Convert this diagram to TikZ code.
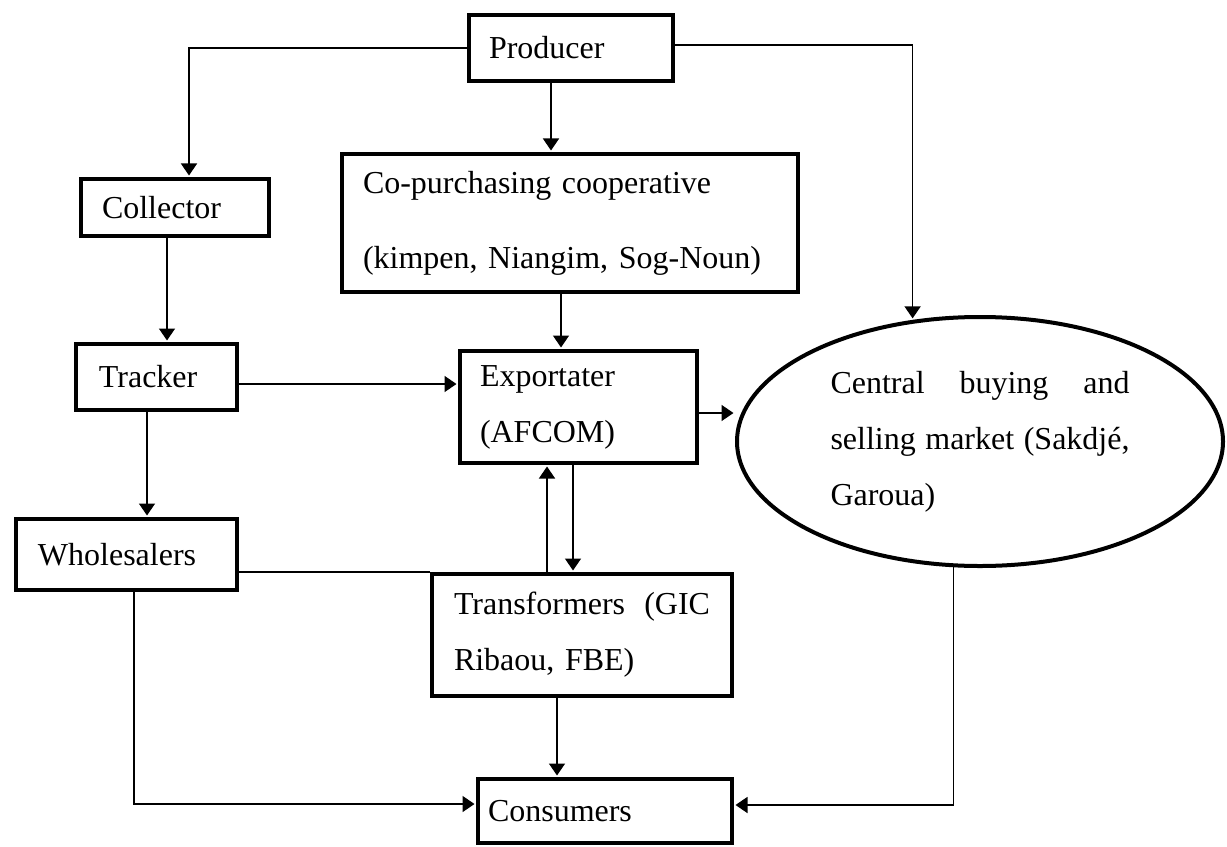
\documentclass[tikz,border=0pt]{standalone}
\usepackage{fontspec}
\setmainfont{Liberation Serif}
\usetikzlibrary{arrows.meta,shapes.geometric}

\tikzset{
	box/.style={draw, rectangle, line width=0.8mm, align=left,
		inner xsep=0pt, inner ysep=0pt,
		font=\fontsize{18.2}{31.9}\selectfont},
	marketbox/.style={draw, ellipse, line width=0.8mm, align=left,
		inner sep=0pt, font=\fontsize{18.2}{31.9}\selectfont},
	flow/.style={line width=0.3mm, shorten >=0.3mm,
		-{Triangle[length=2.4mm,width=3.2mm]}},
	link/.style={line width=0.3mm}
}

\begin{document}
\begin{tikzpicture}[x=0.2mm, y=-0.2mm]
			% page size (pixels of the chart, y going down)
			\useasboundingbox (0,0) rectangle (1227,847);

			% Actors of the chain
			\node[box, minimum width=40.8mm, minimum height=13.2mm,
				text width=32.8mm] (prod) at (571,48) {Producer};
			\node[box, minimum width=37.6mm, minimum height=11.4mm,
				text width=29.2mm] (coll) at (175,207.5) {Collector};
			\node[box, minimum width=91.2mm, minimum height=27.6mm,
				text width=82.8mm, font=\fontsize{18.2}{42.7}\selectfont]
			(coop) at (570,223) {Co-purchasing cooperative\\(kimpen, Niangim, Sog-Noun)};
			\node[box, minimum width=32.2mm, minimum height=13.2mm,
				text width=23mm] (track) at (156.5,377) {Tracker};
			\node[box, minimum width=47.4mm, minimum height=22.4mm,
				text width=39.4mm] (expo) at (578.5,407) {Exportater\\(AFCOM)};
			\node[marketbox, minimum width=97.2mm, minimum height=49.8mm,
				text width=59.8mm] (market) at (980,441.5)
			{\makebox[59.8mm]{Central\hfill buying\hfill and}\\
				\makebox[59.8mm]{selling\hfill market\hfill (Sakdjé,}\\Garoua)};
			\node[box, minimum width=44.2mm, minimum height=14.2mm,
				text width=35.4mm] (whole) at (126.5,554.5) {Wholesalers};
			\node[box, minimum width=60mm, minimum height=24.4mm,
				text width=51.2mm] (trans) at (582,635)
			{\makebox[51.2mm]{Transformers\hfill(GIC}\\Ribaou, FBE)};
			\node[box, minimum width=50.8mm, minimum height=12.8mm,
				text width=46.8mm] (cons) at (605,811) {Consumers};

			% Flows from the producer
			\draw[flow] (prod.west) -| ([xshift=2.8mm]coll.north);
			\draw[flow] ([xshift=-4mm]prod.south) -- ([xshift=-4mm]prod.south |- coop.north);
			\draw[flow] ([yshift=0.6mm]prod.east) -| (market.119);

			% Left branch
			\draw[flow] ([xshift=-1.6mm]coll.south) -- ([xshift=-1.6mm]coll.south |- track.north);
			\draw[flow] ([yshift=-1.4mm]track.east) -- ([yshift=-1.4mm]track.east -| expo.west);
			\draw[flow] ([xshift=-1.9mm]track.south) -- ([xshift=-1.9mm]track.south |- whole.north);
			\draw[link] ([yshift=-3.5mm]whole.east) -- ([yshift=-3.5mm]whole.east -| trans.west);
			\draw[flow] ([xshift=1.5mm]whole.south) |- ([yshift=1.4mm]cons.west);

			% Middle branch
			\draw[flow] ([xshift=-1.8mm]coop.south) -- ([xshift=-1.8mm]coop.south |- expo.north);
			\draw[flow] ([yshift=-1.2mm]expo.east) -- ([yshift=-1.2mm]expo.east -| market.west);
			\draw[flow] ([xshift=-7mm]trans.north) -- ([xshift=-7mm]trans.north |- expo.south);
			\draw[flow] ([xshift=-1.1mm]expo.south) -- ([xshift=-1.1mm]expo.south |- trans.north);
			\draw[flow] ([xshift=-5mm]trans.south) -- ([xshift=-5mm]trans.south |- cons.north);

			% Right branch
			\draw[flow] (market.258) |- ([yshift=1.2mm]cons.east);
		\end{tikzpicture}
\end{document}
